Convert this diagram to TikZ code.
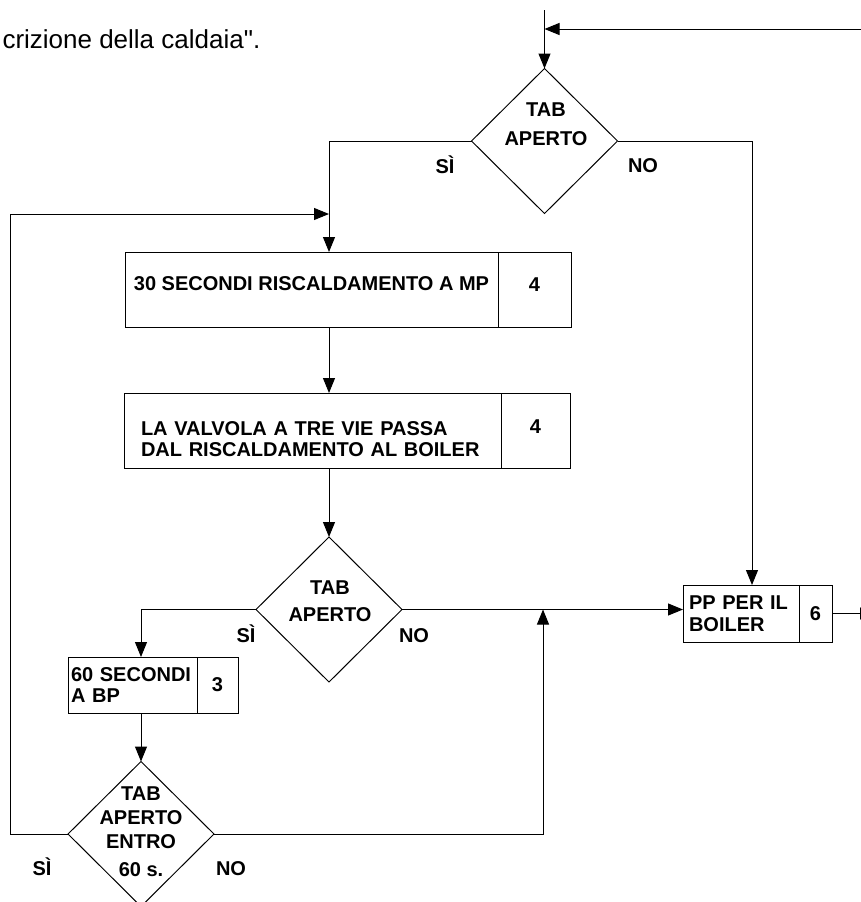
\documentclass[tikz,border=0pt]{standalone}
\usepackage{fontspec}
\setmainfont{Liberation Sans}
\newfontfamily\captionface{Liberation Sans}
\usepackage{tikz}
\newcommand{\chartfont}{\fontsize{20}{21.5}\selectfont\bfseries}
\tikzset{
    stepbox/.style={rectangle,draw=black,align=left,outer sep=0pt,inner ysep=0pt,font=\chartfont},
    numbox/.style={rectangle,draw=black,text centered,outer sep=0pt,inner sep=0pt,font=\chartfont},
    choice/.style={diamond,draw=black,minimum width=146pt,minimum height=145pt,inner sep=0pt,outer sep=0pt},
    choicetext/.style={align=center,inner sep=0pt,font=\fontsize{20}{27}\selectfont\bfseries},
    answer/.style={inner sep=0pt,anchor=base,font=\chartfont},
}
\usetikzlibrary{shapes.geometric,arrows.meta}
\usetikzlibrary{positioning}

\begin{document}
\begin{tikzpicture}[>={Triangle[length=15pt,width=12pt]},x=1pt,y=-1pt,line width=1pt]
\useasboundingbox (0,0) rectangle (861,902);
\node[anchor=base west,inner sep=0pt,font=\captionface\fontsize{26}{30}\selectfont] (caption) at (2,48) {crizione della caldaia".};

\node[choice] (tab1) at (544.5,141) {};
\node[choicetext,font=\fontsize{20}{29}\selectfont\bfseries] (tab1t) at (546,124.5) {TAB\\APERTO};
\node[answer] (yes1) at (445,173) {SÌ};
\node[answer] (no1) at (643,172) {NO};

\node[stepbox,anchor=north west,minimum height=75pt,minimum width=373pt,inner xsep=0pt,text depth=11pt] (heat) at (125,252) {30 SECONDI RISCALDAMENTO A MP};
\node[numbox,minimum width=73pt,minimum height=75pt,text depth=9pt] (heatn) [right=0pt of heat] {4};
\node[stepbox,anchor=north west,minimum height=75pt,text width=343pt,inner xsep=17pt,text depth=4pt] (valve) at (124,393) {LA VALVOLA A TRE VIE PASSA\\DAL RISCALDAMENTO AL BOILER};
\node[numbox,minimum width=69pt,minimum height=75pt,text depth=7pt] (valven) [right=0pt of valve] {4};

\node[choice] (tab2) at (329,609.5) {};
\node[choicetext] (tab2t) at (330,601.5) {TAB\\APERTO};
\node[answer] (yes2) at (246,642) {SÌ};
\node[answer] (no2) at (414,642) {NO};

\node[stepbox,anchor=north west,minimum height=56pt,text width=123pt,inner xsep=3pt] (low) at (68,657) {60 SECONDI\\A BP};
\node[numbox,minimum width=41pt,minimum height=56pt] (lown) [right=0pt of low] {3};

\node[choice] (tab3) at (141,834) {};
\node[choicetext,font=\fontsize{20}{24}\selectfont\bfseries] (tab3t) at (141,831.5) {TAB\\APERTO\\ENTRO\\[4pt]60 s.};
\node[answer] (yes3) at (42,875) {SÌ};
\node[answer] (no3) at (231,875) {NO};

\node[stepbox,anchor=north west,minimum height=57pt,text width=104pt,inner xsep=6pt] (boiler) at (683,585) {PP PER IL\\BOILER};
\node[numbox,minimum width=33pt,minimum height=57pt] (boilern) [right=0pt of boiler] {6};

\coordinate (entry) at (544.5,10);
\coordinate (ret) at (866,29);
\coordinate (loopin) at (329,214);
\coordinate (leftx) at (10,214);
\coordinate (join) at (543,609.5);
\coordinate (exit) at (875,612);

\draw[->] (entry) -- (tab1.north);
\draw[->] (ret) -- (ret -| entry);
\draw[->] (tab1.west) -| (loopin |- heat.north);
\draw[->] (tab1.east) -| ([xshift=11pt]boiler.north);
\draw[->] (tab3.west) -| (leftx) -- (loopin);
\draw[->] (loopin |- heat.south) -- (loopin |- valve.north);
\draw[->] (loopin |- valve.south) -- (tab2.north);
\draw[->] (tab2.west) -| (tab3.north |- low.north);
\draw[->] (tab3.north |- low.south) -- (tab3.north);
\draw[->] (tab2.east) -- (tab2.east -| boiler.west);
\draw[->] (tab3.east) -| (join);
\draw[->] (boilern.east) -- (boilern.east -| exit);
\end{tikzpicture}
\end{document}
